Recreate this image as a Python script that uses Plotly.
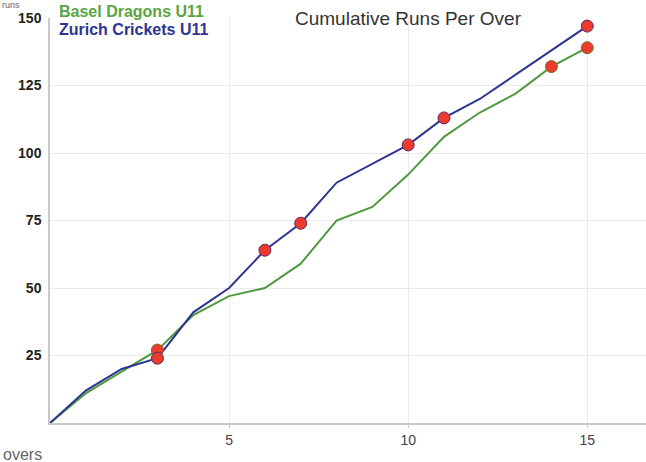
import plotly.graph_objects as go

overs = list(range(16))
basel_runs = [0, 11, 19, 27, 40, 47, 50, 59, 75, 80, 92, 106, 115, 122, 132, 139]
zurich_runs = [0, 12, 20, 24, 41, 50, 64, 74, 89, 96, 103, 113, 120, 129, 138, 147]
basel_wicket_overs = [3, 14, 15]
zurich_wicket_overs = [3, 6, 7, 10, 11, 15]
basel_name = "Basel Dragons U11"
zurich_name = "Zurich Crickets U11"
title_text = "Cumulative Runs Per Over"
x_ticks = [5, 10, 15]
y_ticks = [25, 50, 75, 100, 125, 150]

GREEN = "#4f9a3f"
BLUE = "#2d3591"
RED = "#ee3a2c"
FONT = "Liberation Sans"

fig = go.Figure()
fig.add_trace(go.Scatter(x=overs, y=basel_runs, mode="lines",
                         line=dict(color=GREEN, width=2), showlegend=False))
fig.add_trace(go.Scatter(x=overs, y=zurich_runs, mode="lines",
                         line=dict(color=BLUE, width=2), showlegend=False))
fig.add_trace(go.Scatter(x=basel_wicket_overs,
                         y=[basel_runs[o] for o in basel_wicket_overs],
                         mode="markers",
                         marker=dict(color=RED, size=12, line=dict(color="#7a6a2a", width=1)),
                         showlegend=False))
fig.add_trace(go.Scatter(x=zurich_wicket_overs,
                         y=[zurich_runs[o] for o in zurich_wicket_overs],
                         mode="markers",
                         marker=dict(color=RED, size=12, line=dict(color="#5a2a6a", width=1)),
                         showlegend=False))

fig.update_layout(
    width=646, height=462,
    margin=dict(l=50, r=0, t=18, b=39),
    paper_bgcolor="white", plot_bgcolor="white",
    font=dict(family=FONT),
    hovermode=False,
    xaxis=dict(range=[0, 16.64], tickvals=x_ticks, showgrid=True, gridcolor="#ebebeb",
               gridwidth=1, zeroline=False, showline=True, linecolor="#c8c8c8", linewidth=1.5,
               ticks="outside", ticklen=3, tickcolor="#c8c8c8",
               tickfont=dict(family=FONT, size=14, color="#444444")),
    yaxis=dict(range=[0, 150], tickvals=y_ticks, showgrid=True, gridcolor="#ebebeb",
               gridwidth=1, zeroline=False, showline=True, linecolor="#c8c8c8", linewidth=1.5,
               ticks="", ticklabelstandoff=4,
               tickfont=dict(family=FONT, size=14, color="#222222", weight="bold")),
    annotations=[
        dict(text=title_text, xref="paper", yref="paper", x=0.602, y=0.9985,
             xanchor="center", yanchor="middle", showarrow=False,
             font=dict(family=FONT, size=19, color="#333333")),
        dict(text=basel_name, xref="paper", yref="paper", x=0.011, y=1.017,
             xanchor="left", yanchor="middle", showarrow=False,
             font=dict(family=FONT, size=16, color="#5aa544", weight="bold")),
        dict(text=zurich_name, xref="paper", yref="paper", x=0.011, y=0.972,
             xanchor="left", yanchor="middle", showarrow=False,
             font=dict(family=FONT, size=16, color=BLUE, weight="bold")),
        dict(text="runs", xref="paper", yref="paper", x=-0.0839, y=1.032,
             xanchor="left", yanchor="middle", showarrow=False,
             font=dict(family=FONT, size=9, color="#666666")),
        dict(text="overs", xref="paper", yref="paper", x=-0.083, y=-0.077,
             xanchor="left", yanchor="middle", showarrow=False,
             font=dict(family=FONT, size=16, color="#666666")),
    ],
)

fig.write_html("out.html", config={"displayModeBar": False},
               post_script="document.body.style.margin='0';")
